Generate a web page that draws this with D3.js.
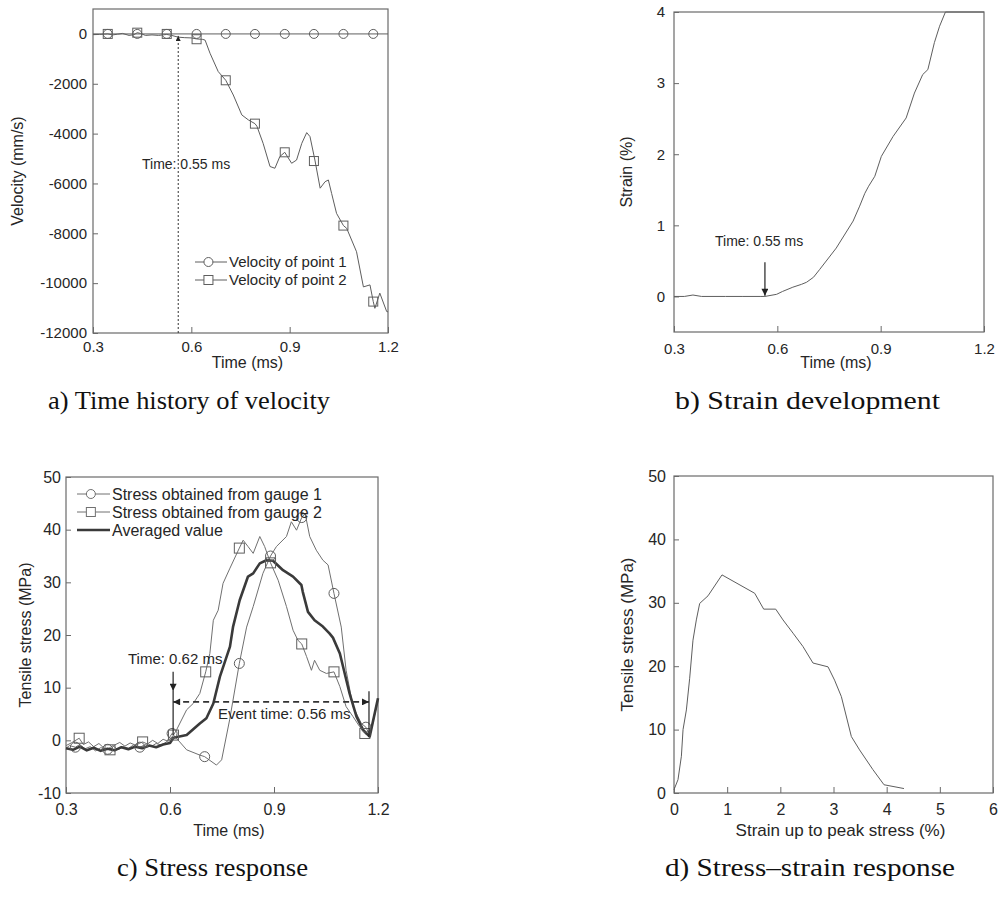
<!DOCTYPE html>
<html>
<head>
<meta charset="utf-8">
<script src="https://cdn.jsdelivr.net/npm/d3@7"></script>
<style>
  body { margin: 0; background: #fff; }
  svg { display: block; }
</style>
</head>
<body>
<script>

// ---- panel a: velocity (mm/s) over time (ms) ----
var velMarkTime = [0.345, 0.435, 0.525, 0.616, 0.705, 0.794, 0.885, 0.974, 1.064, 1.155];
var vel1Time = [0.30, 1.20];
var vel1Value = [0, 0];
var vel1Mark = [0, 0, 0, 0, 0, 0, 0, 0, 0, 0];
var vel2Time = [0.30, 0.32, 0.345, 0.36, 0.375, 0.39, 0.41, 0.425, 0.435, 0.445, 0.46, 0.48, 0.50, 0.525,
  0.54, 0.56, 0.58, 0.60, 0.616, 0.635, 0.642, 0.657, 0.682, 0.705, 0.728, 0.754, 0.774, 0.794, 0.80,
  0.819, 0.84, 0.855, 0.87, 0.885, 0.906, 0.921, 0.937, 0.952, 0.962, 0.977, 0.993, 1.008, 1.018,
  1.028, 1.043, 1.064, 1.074, 1.104, 1.125, 1.145, 1.155, 1.16, 1.175, 1.196, 1.20];
var vel2Value = [-30, -20, 0, -40, -10, 20, -60, -30, 50, 20, -60, -40, -60, -20,
  -60, -130, -150, -160, -200, -220, -250, -775, -1510, -1860, -2450, -3250, -3450, -3600, -3700,
  -4390, -5320, -5390, -4920, -4750, -5190, -5060, -4390, -3960, -4120, -5060, -6190, -5930, -5860,
  -6400, -7200, -7690, -7800, -8740, -10150, -10070, -10740, -11010, -10400, -11140, -11150];
var vel2Mark = [0, 50, 0, -213, -1860, -3600, -4750, -5100, -7690, -10740];
var velYTicks = [0, -2000, -4000, -6000, -8000, -10000, -12000];
var timeTicks = [0.3, 0.6, 0.9, 1.2];
var velArrowTime = 0.56;

// ---- panel b: strain (%) over time (ms) ----
var strainTime = [0.30, 0.33, 0.355, 0.38, 0.45, 0.50, 0.55, 0.564, 0.598, 0.615, 0.645, 0.67, 0.685,
  0.705, 0.723, 0.771, 0.82, 0.839, 0.854, 0.865, 0.883, 0.902, 0.936, 0.974, 0.998, 1.022, 1.037,
  1.056, 1.071, 1.088, 1.20];
var strainValue = [0, 0, 0.02, 0, 0, 0, 0, 0, 0.03, 0.07, 0.13, 0.17, 0.2,
  0.27, 0.38, 0.68, 1.06, 1.27, 1.45, 1.55, 1.69, 1.97, 2.25, 2.51, 2.86, 3.12, 3.19,
  3.57, 3.80, 4.0, 4.0];
var strainYTicks = [0, 1, 2, 3, 4];
var strainArrowTime = 0.564;

// ---- panel c: tensile stress (MPa) over time (ms) ----
var g1Time = [0.30, 0.31, 0.327, 0.34, 0.355, 0.37, 0.385, 0.40, 0.42, 0.435, 0.45, 0.465, 0.48, 0.495,
  0.513, 0.53, 0.545, 0.56, 0.575, 0.59, 0.606, 0.62, 0.648, 0.686, 0.70, 0.734, 0.749, 0.772, 0.80,
  0.821, 0.84, 0.868, 0.89, 0.907, 0.936, 0.95, 0.965, 0.98, 0.99, 1.003, 1.022, 1.041, 1.056, 1.073,
  1.094, 1.108, 1.128, 1.152, 1.165, 1.176, 1.20];
var g1Value = [-1.5, -1.0, -1.3, -0.8, -1.6, -1.2, -2.0, -1.4, -1.7, -1.0, -1.8, -1.2, -1.5, -0.9,
  -1.3, -0.8, -1.2, -0.6, -0.9, -0.3, 1.3, 0.3, -1.8, -2.8, -3.1, -4.7, -3.7, 3.9, 14.6,
  21.5, 25.4, 31.7, 35.0, 36.8, 38.7, 41.5, 39.9, 42.3, 43.0, 38.7, 36.1, 34.2, 33.3, 27.9,
  21.5, 13.3, 6.4, 3.2, 2.5, 1.0, 8.0];
var g1MarkTime = [0.327, 0.42, 0.513, 0.606, 0.70, 0.80, 0.89, 0.98, 1.073, 1.165];
var g1Mark = [-1.3, -1.7, -1.3, 1.3, -3.1, 14.6, 35.0, 42.3, 27.9, 2.5];

var g2Time = [0.30, 0.315, 0.338, 0.35, 0.365, 0.38, 0.395, 0.41, 0.427, 0.44, 0.455, 0.47, 0.485, 0.50,
  0.521, 0.535, 0.55, 0.565, 0.58, 0.595, 0.61, 0.619, 0.648, 0.667, 0.686, 0.703, 0.715, 0.725, 0.739,
  0.753, 0.773, 0.80, 0.811, 0.825, 0.84, 0.859, 0.873, 0.89, 0.912, 0.936, 0.955, 0.969, 0.98, 0.994,
  1.008, 1.017, 1.032, 1.051, 1.073, 1.09, 1.108, 1.128, 1.147, 1.162, 1.176, 1.20];
var g2Value = [-1.0, -0.5, 0.4, -0.8, -0.3, -1.2, -0.6, -1.5, -1.8, -0.9, -0.4, -1.1, -0.5, -0.9,
  -0.3, -0.7, 0.0, -0.6, 0.2, -0.2, 1.0, 2.0, 5.8, 7.0, 8.9, 13.0, 16.5, 22.8, 24.7,
  29.8, 32.7, 36.5, 38.0, 36.8, 35.5, 38.7, 36.8, 33.7, 30.4, 25.4, 20.9, 19.0, 18.3, 15.9,
  13.3, 15.2, 13.3, 12.7, 13.0, 10.2, 6.4, 4.5, 2.6, 1.3, 0.7, 7.6];
var g2MarkTime = [0.338, 0.427, 0.521, 0.61, 0.703, 0.80, 0.89, 0.98, 1.073, 1.162];
var g2Mark = [0.4, -1.8, -0.3, 1.0, 13.0, 36.5, 33.7, 18.3, 13.0, 1.3];

var avgTime = [0.30, 0.32, 0.34, 0.36, 0.38, 0.40, 0.42, 0.44, 0.46, 0.48, 0.50, 0.52, 0.54, 0.56,
  0.58, 0.60, 0.61, 0.648, 0.686, 0.705, 0.725, 0.744, 0.773, 0.782, 0.801, 0.825, 0.84, 0.859,
  0.878, 0.897, 0.926, 0.955, 0.979, 0.983, 0.998, 1.017, 1.041, 1.06, 1.07, 1.09, 1.118, 1.138,
  1.157, 1.176, 1.20];
var avgValue = [-1.5, -1.8, -1.2, -1.9, -1.4, -2.0, -1.6, -1.9, -1.3, -1.7, -1.2, -1.5, -1.0, -1.3,
  -0.8, -0.5, 0.5, 1.0, 3.2, 4.2, 7.0, 12.1, 17.8, 21.6, 26.6, 31.1, 31.7, 33.6,
  34.2, 34.1, 32.3, 31.1, 29.5, 28.2, 24.4, 22.8, 21.6, 20.3, 19.5, 16.5, 8.9, 4.5,
  2.0, 0.7, 8.0];
var stressYTicks = [-10, 0, 10, 20, 30, 40, 50];
var eventStart = 0.609;
var eventEnd = 1.174;

// ---- panel d: stress (MPa) against strain (%) ----
var ssStrain = [0, 0.013, 0.075, 0.139, 0.17, 0.233, 0.295, 0.357, 0.42, 0.483, 0.64, 0.903, 1.518,
  1.687, 1.913, 2.05, 2.24, 2.426, 2.614, 2.897, 3.02, 3.148, 3.336, 3.49, 3.74, 3.95, 4.326];
var ssStress = [0.5, 0.8, 2.1, 5.8, 10, 13.1, 18.1, 24.1, 27.3, 29.9, 31.1, 34.4, 31.5,
  29.0, 29.0, 27.3, 25.2, 23.1, 20.5, 19.9, 17.8, 15.2, 8.9, 6.8, 3.7, 1.3, 0.7];
var ssXTicks = [0, 1, 2, 3, 4, 5, 6];
var ssYTicks = [0, 10, 20, 30, 40, 50];

var captions = ["a) Time history of velocity", "b) Strain development", "c) Stress response", "d) Stress\u2013strain response"];

var sans = "'Liberation Sans', Arial, Helvetica, sans-serif";
var serif = "'Liberation Serif', 'Times New Roman', Times, serif";
var frameColor = "#6a6a6a";
var lineColor = "#5e5e5e";
var textColor = "#262626";

function zip(xs, ys) {
  return xs.map(function(d, i) { return [d, ys[i]]; });
}

var svg = d3.select("body").append("svg")
    .attr("width", 1000)
    .attr("height", 901);

svg.append("rect").attr("width", 1000).attr("height", 901).attr("fill", "#fff");

// arrow heads
var defs = svg.append("defs");
defs.append("marker")
    .attr("id", "arrow")
    .attr("viewBox", "0 0 10 10")
    .attr("refX", 10).attr("refY", 5)
    .attr("markerUnits", "userSpaceOnUse")
    .attr("markerWidth", 9).attr("markerHeight", 7)
    .attr("orient", "auto-start-reverse")
  .append("path")
    .attr("d", "M0,0 L10,5 L0,10 z")
    .attr("fill", "#222");
defs.append("marker")
    .attr("id", "arrowSmall")
    .attr("viewBox", "0 0 10 10")
    .attr("refX", 10).attr("refY", 5)
    .attr("markerUnits", "userSpaceOnUse")
    .attr("markerWidth", 6).attr("markerHeight", 5)
    .attr("orient", "auto")
  .append("path")
    .attr("d", "M0,0 L10,5 L0,10 z")
    .attr("fill", "#222");

// draws frame, inward ticks and the axis titles of one panel
function drawAxes(x, y, cfg) {
  var g = svg.append("g");
  var x0 = x.range()[0], x1 = x.range()[1];
  var y0 = y.range()[0], y1 = y.range()[1];

  g.append("rect")
      .attr("x", x0).attr("y", y1)
      .attr("width", x1 - x0).attr("height", y0 - y1)
      .attr("fill", "none")
      .attr("stroke", frameColor)
      .attr("stroke-width", 1.2);

  var xAxis = d3.axisBottom(x)
      .tickValues(cfg.xTicks)
      .tickFormat(cfg.xFormat)
      .tickSizeInner(-6).tickSizeOuter(0)
      .tickPadding(cfg.xPad);
  var yAxis = d3.axisLeft(y)
      .tickValues(cfg.yTicks)
      .tickFormat(function(d) { return String(d); })
      .tickSizeInner(-5).tickSizeOuter(0)
      .tickPadding(cfg.yPad);

  var gx = g.append("g").attr("transform", "translate(0," + y0 + ")").call(xAxis);
  var gy = g.append("g").attr("transform", "translate(" + x0 + ",0)").call(yAxis);
  [gx, gy].forEach(function(a) {
    a.select(".domain").remove();
    a.selectAll(".tick line").attr("stroke", frameColor);
    a.selectAll("text")
        .attr("fill", textColor)
        .style("font-family", sans)
        .style("font-size", cfg.tickSize + "px");
  });

  // axis titles
  g.append("text")
      .attr("x", (x0 + x1) / 2 + 7)
      .attr("y", cfg.xTitleY)
      .attr("text-anchor", "middle")
      .attr("fill", textColor)
      .style("font-family", sans)
      .style("font-size", cfg.titleSize + "px")
      .text(cfg.xTitle);
  g.append("text")
      .attr("transform", "translate(" + cfg.yTitleX + "," + (y0 + y1) / 2 + ") rotate(-90)")
      .attr("text-anchor", "middle")
      .attr("dy", "0.35em")
      .attr("fill", textColor)
      .style("font-family", sans)
      .style("font-size", cfg.titleSize + "px")
      .text(cfg.yTitle);
}

function drawLine(x, y, data, width, color) {
  var line = d3.line().x(function(d) { return x(d[0]); }).y(function(d) { return y(d[1]); });
  svg.append("path")
      .datum(data)
      .attr("d", line)
      .attr("fill", "none")
      .attr("stroke", color)
      .attr("stroke-width", width)
      .attr("stroke-linejoin", "round");
}

function drawCircles(x, y, data, r) {
  svg.append("g").selectAll("circle")
      .data(data)
      .enter().append("circle")
      .attr("cx", function(d) { return x(d[0]); })
      .attr("cy", function(d) { return y(d[1]); })
      .attr("r", r)
      .attr("fill", "none")
      .attr("stroke", lineColor)
      .attr("stroke-width", 1);
}

function drawSquares(x, y, data, s) {
  svg.append("g").selectAll("rect")
      .data(data)
      .enter().append("rect")
      .attr("x", function(d) { return x(d[0]) - s / 2; })
      .attr("y", function(d) { return y(d[1]) - s / 2; })
      .attr("width", s).attr("height", s)
      .attr("fill", "none")
      .attr("stroke", lineColor)
      .attr("stroke-width", 1);
}

function label(x, y, txt, size, anchor) {
  svg.append("text")
      .attr("x", x).attr("y", y)
      .attr("text-anchor", anchor || "start")
      .attr("dy", "0.35em")
      .attr("fill", textColor)
      .style("font-family", sans)
      .style("font-size", size + "px")
      .text(txt);
}

// legend row: short line with a marker (circle, square or none) and its text
function legendRow(lx, ly, len, kind, txt, size, width, color) {
  svg.append("line")
      .attr("x1", lx).attr("x2", lx + len)
      .attr("y1", ly).attr("y2", ly)
      .attr("stroke", color).attr("stroke-width", width);
  var cx = lx + len * 0.42;
  if (kind == "circle") {
    svg.append("circle").attr("cx", cx).attr("cy", ly).attr("r", 4.5)
        .attr("fill", "#fff").attr("stroke", color);
  }
  if (kind == "square") {
    svg.append("rect").attr("x", cx - 4.5).attr("y", ly - 4.5).attr("width", 9).attr("height", 9)
        .attr("fill", "#fff").attr("stroke", color);
  }
  label(lx + len + 2, ly, txt, size);
}

var fmt1 = d3.format(".1f");

// ================= panel a =================
var xA = d3.scaleLinear().domain([0.3, 1.2]).range([93, 388]);
var yA = d3.scaleLinear().domain([-12000, 1000]).range([333, 9]);

drawAxes(xA, yA, {xTicks: timeTicks, xFormat: fmt1, yTicks: velYTicks, xPad: 8, yPad: 6,
  tickSize: 15, titleSize: 16, xTitle: "Time (ms)", yTitle: "Velocity (mm/s)", xTitleY: 368, yTitleX: 17});

drawLine(xA, yA, zip(vel1Time, vel1Value), 1, lineColor);
drawLine(xA, yA, zip(vel2Time, vel2Value), 1, lineColor);
drawCircles(xA, yA, zip(velMarkTime, vel1Mark), 4.5);
drawSquares(xA, yA, zip(velMarkTime, vel2Mark), 9);

// dotted marker of start time
svg.append("line")
    .attr("x1", xA(velArrowTime)).attr("x2", xA(velArrowTime))
    .attr("y1", yA(-12000)).attr("y2", yA(-80))
    .attr("stroke", "#333").attr("stroke-width", 1)
    .attr("stroke-dasharray", "2,2")
    .attr("marker-end", "url(#arrowSmall)");
label(142, 164, "Time: 0.55 ms", 14);

legendRow(195, 262, 32, "circle", "Velocity of point 1", 15, 1, lineColor);
legendRow(195, 280, 32, "square", "Velocity of point 2", 15, 1, lineColor);

// ================= panel b =================
var xB = d3.scaleLinear().domain([0.3, 1.2]).range([674, 984]);
var yB = d3.scaleLinear().domain([-0.5, 4]).range([332, 12]);

drawAxes(xB, yB, {xTicks: timeTicks, xFormat: fmt1, yTicks: strainYTicks, xPad: 11, yPad: 9,
  tickSize: 15, titleSize: 16, xTitle: "Time (ms)", yTitle: "Strain (%)", xTitleY: 368, yTitleX: 626});

drawLine(xB, yB, zip(strainTime, strainValue), 1, lineColor);

svg.append("line")
    .attr("x1", xB(strainArrowTime)).attr("x2", xB(strainArrowTime))
    .attr("y1", yB(0.48)).attr("y2", yB(0.01))
    .attr("stroke", "#222").attr("stroke-width", 1.2)
    .attr("marker-end", "url(#arrow)");
label(715, 241, "Time: 0.55 ms", 14);

// ================= panel c =================
var xC = d3.scaleLinear().domain([0.3, 1.2]).range([66, 378]);
var yC = d3.scaleLinear().domain([-10, 50]).range([793, 477]);

drawAxes(xC, yC, {xTicks: timeTicks, xFormat: fmt1, yTicks: stressYTicks, xPad: 11, yPad: 5,
  tickSize: 16, titleSize: 16, xTitle: "Time (ms)", yTitle: "Tensile stress (MPa)", xTitleY: 836, yTitleX: 25});

drawLine(xC, yC, zip(g1Time, g1Value), 1, "#707070");
drawLine(xC, yC, zip(g2Time, g2Value), 1, "#707070");
drawLine(xC, yC, zip(avgTime, avgValue), 2.6, "#3a3a3a");
drawCircles(xC, yC, zip(g1MarkTime, g1Mark), 5);
drawSquares(xC, yC, zip(g2MarkTime, g2Mark), 10);

// event time annotation
svg.append("line")
    .attr("x1", xC(eventStart)).attr("x2", xC(eventStart))
    .attr("y1", yC(13)).attr("y2", yC(9.4))
    .attr("stroke", "#222").attr("stroke-width", 1.2)
    .attr("marker-end", "url(#arrow)");
svg.append("line")
    .attr("x1", xC(eventStart)).attr("x2", xC(eventStart))
    .attr("y1", yC(9.4)).attr("y2", yC(1))
    .attr("stroke", "#222").attr("stroke-width", 1.2);
svg.append("line")
    .attr("x1", xC(eventEnd)).attr("x2", xC(eventEnd))
    .attr("y1", yC(9.3)).attr("y2", yC(0.7))
    .attr("stroke", "#222").attr("stroke-width", 1.2);
svg.append("line")
    .attr("x1", xC(eventStart)).attr("x2", xC(eventEnd))
    .attr("y1", yC(7.3)).attr("y2", yC(7.3))
    .attr("stroke", "#333").attr("stroke-width", 1.6)
    .attr("stroke-dasharray", "6,4")
    .attr("marker-start", "url(#arrow)")
    .attr("marker-end", "url(#arrow)");
label(128, 659, "Time: 0.62 ms", 15);
label(218, 714, "Event time: 0.56 ms", 15);

legendRow(77, 494, 33, "circle", "Stress obtained from gauge 1", 16, 1, "#707070");
legendRow(77, 512, 33, "square", "Stress obtained from gauge 2", 16, 1, "#707070");
legendRow(77, 530, 33, "none", "Averaged value", 16, 2.6, "#3a3a3a");

// ================= panel d =================
var xD = d3.scaleLinear().domain([0, 6]).range([674, 993]);
var yD = d3.scaleLinear().domain([0, 50]).range([793, 476]);

drawAxes(xD, yD, {xTicks: ssXTicks, xFormat: d3.format("d"), yTicks: ssYTicks, xPad: 11, yPad: 8,
  tickSize: 16, titleSize: 17, xTitle: "Strain up to peak stress (%)", yTitle: "Tensile stress (MPa)",
  xTitleY: 836, yTitleX: 627});

drawLine(xD, yD, zip(ssStrain, ssStress), 1, lineColor);

// ================= captions =================
var capPos = [[48, 330, 409], [675, 940, 409], [117, 308, 876], [665, 955, 876]];
svg.selectAll(".caption")
    .data(captions)
    .enter().append("text")
    .attr("class", "caption")
    .attr("x", function(d, i) { return capPos[i][0]; })
    .attr("y", function(d, i) { return capPos[i][2]; })
    .attr("textLength", function(d, i) { return capPos[i][1] - capPos[i][0]; })
    .attr("lengthAdjust", "spacingAndGlyphs")
    .attr("fill", "#111")
    .style("font-family", serif)
    .style("font-size", "26px")
    .text(function(d) { return d; });

</script>
</body>
</html>
